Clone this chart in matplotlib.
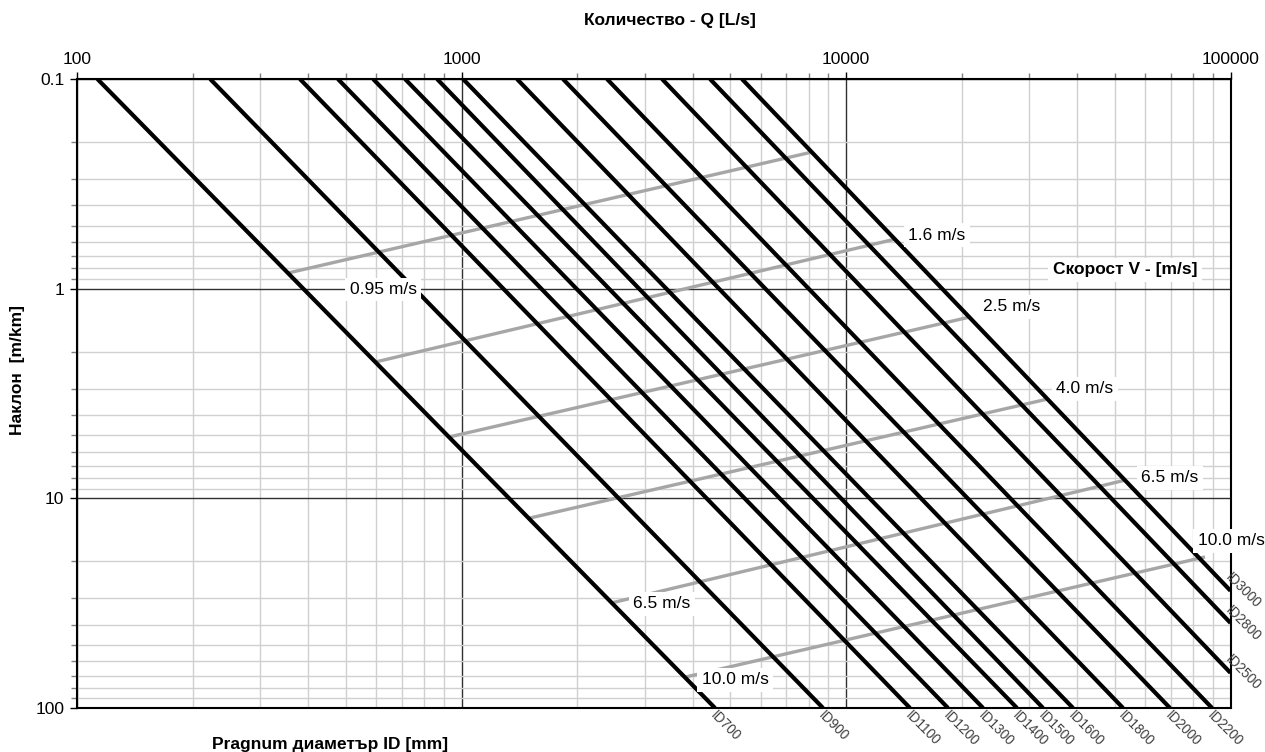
import matplotlib
matplotlib.use("Agg")
import matplotlib.pyplot as plt
from matplotlib.ticker import LogLocator, NullFormatter, FixedLocator, FixedFormatter

plt.rcParams['font.family'] = ['Liberation Sans', 'DejaVu Sans']

# Pipe diameters and their flow lines (Q at S = 0.1 m/km, and end point)
diameters = [700, 900, 1100, 1200, 1300, 1400, 1500, 1600, 1800, 2000, 2200, 2500, 2800, 3000]
q_top = [113, 222, 380, 477, 589, 713, 864, 1009, 1394, 1836, 2390, 3323, 4429, 5363]
q_end = [4564, 8713, 14670, 18420, 22720, 27840, 32540, 38940, 52540, 69610, 89540,
         100000, 100000, 100000]
s_end = [100, 100, 100, 100, 100, 100, 100, 100, 100, 100, 100, 68.0, 39.3, 27.6]

# Constant-velocity lines (start on ID700, end on ID3000)
velocities = ["0.95", "1.6", "2.5", "4.0", "6.5", "10.0"]
v_q_start = [354, 598, 928, 1507, 2463, 3837]
v_s_start = [0.842, 2.236, 5.10, 12.41, 31.5, 71.1]
v_q_end = [8160, 13490, 21010, 33530, 53480, 85850]
v_s_end = [0.223, 0.579, 1.365, 3.357, 8.17, 19.03]

x_ticks = [100, 1000, 10000, 100000]
y_ticks = [0.1, 1, 10, 100]

FS = 12.5

fig = plt.figure(figsize=(12.65, 7.52), dpi=100)
ax = fig.add_axes([77 / 1265, 1 - 708 / 752, (1230.5 - 77) / 1265, (708 - 79) / 752])

ax.set_xscale('log')
ax.set_yscale('log')
ax.set_xlim(100, 100000)
ax.set_ylim(100, 0.1)

# grid
ax.xaxis.set_minor_locator(LogLocator(base=10, subs=range(2, 10)))
ax.yaxis.set_minor_locator(LogLocator(base=10, subs=range(2, 10)))
ax.grid(which='minor', color='#d0d0d0', linewidth=1.0)
ax.grid(which='major', color='#303030', linewidth=1.0)
ax.set_axisbelow(True)

ax.xaxis.tick_top()
ax.xaxis.set_label_position('top')
ax.xaxis.set_major_locator(FixedLocator(x_ticks))
ax.xaxis.set_major_formatter(FixedFormatter([str(v) for v in x_ticks]))
ax.xaxis.set_minor_formatter(NullFormatter())
ax.yaxis.set_major_locator(FixedLocator(y_ticks))
ax.yaxis.set_major_formatter(FixedFormatter(['0.1', '1', '10', '100']))
ax.yaxis.set_minor_formatter(NullFormatter())
ax.tick_params(which='both', direction='out', labelsize=FS, color='black')
ax.tick_params(which='major', length=5, width=1, pad=4)
ax.tick_params(which='minor', length=4, width=1, color='#808080')
for sp in ax.spines.values():
    sp.set_linewidth(1.5)
    sp.set_color('black')

# velocity lines
for qs, ss, qe, se in zip(v_q_start, v_s_start, v_q_end, v_s_end):
    ax.plot([qs, qe], [ss, se], color='#a6a6a6', linewidth=2.4, solid_capstyle='butt', zorder=3)

# diameter lines
for qt, qe, se in zip(q_top, q_end, s_end):
    ax.plot([qt, qe], [0.1, se], color='black', linewidth=3.0, solid_capstyle='butt', zorder=4)

# diameter labels
for d, qe, se in zip(diameters, q_end, s_end):
    off = (-2, -4) if se >= 100 else (-2, 11)
    ax.annotate(f"ID{d}", xy=(qe, se), xytext=off, textcoords='offset points',
                rotation=-45, rotation_mode='anchor', ha='left', va='center',
                fontsize=9.8, color='#404040', annotation_clip=False)

box = dict(boxstyle='square,pad=0.25', facecolor='white', edgecolor='none')

# velocity labels
v_label_q = [625, 17250, 27020, 41830, 69610, 100300]
v_label_s = [1.01, 0.555, 1.223, 3.008, 7.99, 15.96]
for v, ql, sl in zip(velocities, v_label_q, v_label_s):
    ax.text(ql, sl, f"{v} m/s", ha='center', va='center', fontsize=FS, bbox=box,
            zorder=6, clip_on=False)
ax.text(3323, 31.9, "6.5 m/s", ha='center', va='center', fontsize=FS, bbox=box, zorder=6)
ax.text(5144, 73.4, "10.0 m/s", ha='center', va='center', fontsize=FS, bbox=box, zorder=6)
ax.text(53170, 0.814, "Скорост V - [m/s]", ha='center', va='center', fontsize=FS,
        fontweight='bold', bbox=box, zorder=6)

# axis titles
fig.text(670 / 1265, 1 - 20 / 752, "Количество - Q [L/s]", ha='center', va='center',
         fontsize=FS, fontweight='bold')
fig.text(18 / 1265, 1 - 370 / 752, "Наклон  [m/km]", ha='center', va='center',
         rotation=90, fontsize=FS, fontweight='bold')
fig.text(330 / 1265, 1 - 744 / 752, "Pragnum диаметър ID [mm]", ha='center', va='center',
         fontsize=FS, fontweight='bold')

fig.savefig("out.png", dpi=100)
